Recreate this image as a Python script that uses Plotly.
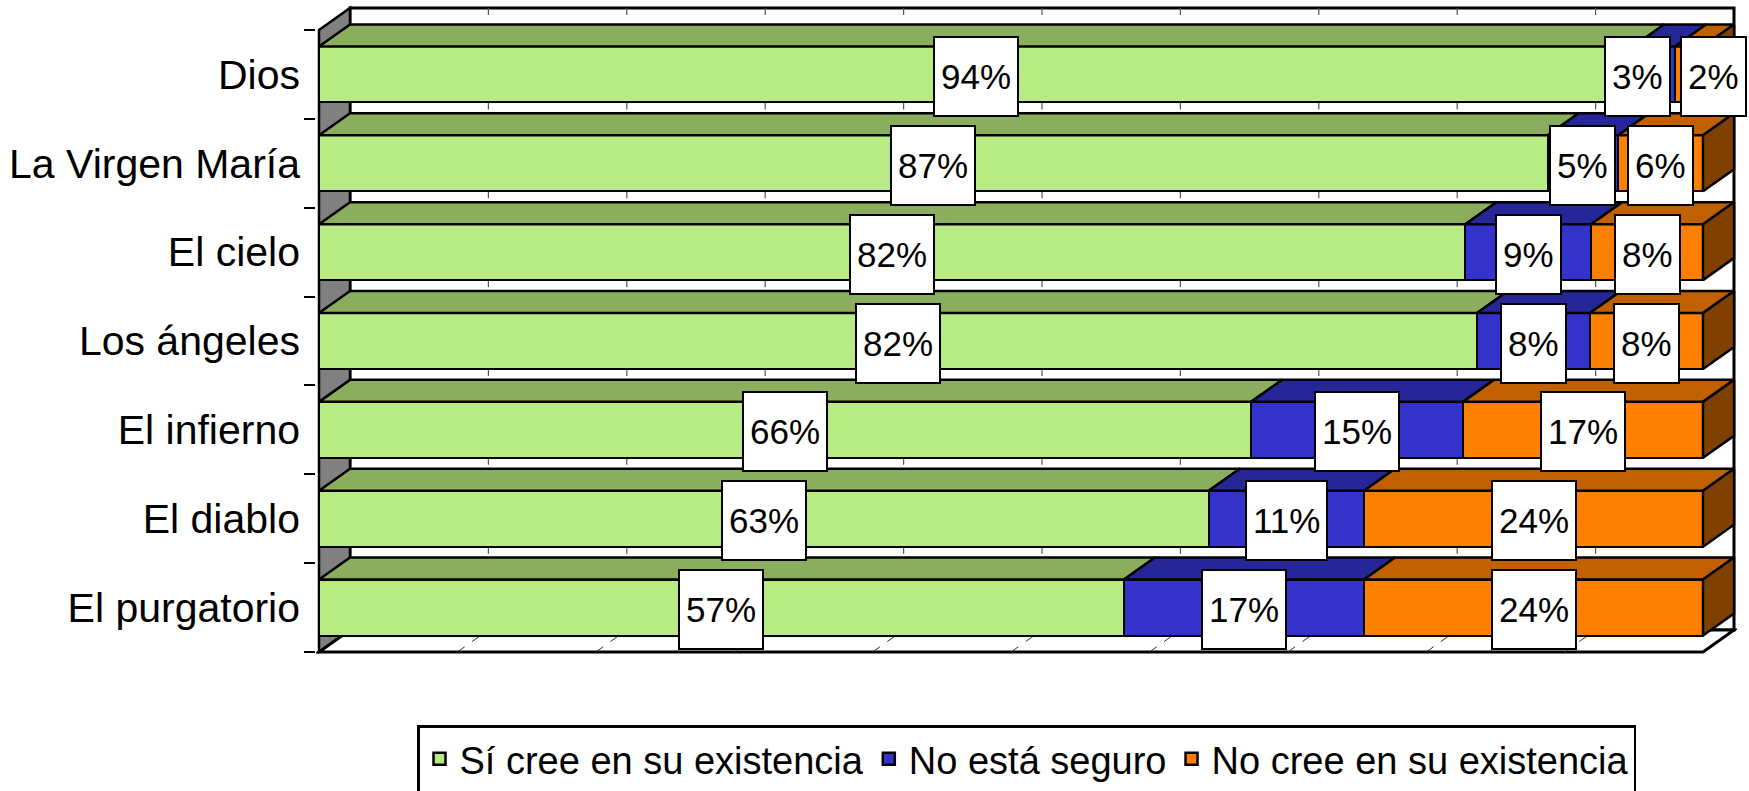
import plotly.graph_objects as go

# ---- data -------------------------------------------------------------
categories = ["Dios", "La Virgen María", "El cielo", "Los ángeles",
              "El infierno", "El diablo", "El purgatorio"]
si_cree = [94, 87, 82, 82, 66, 63, 57]
no_seguro = [3, 5, 9, 8, 15, 11, 17]
no_cree = [2, 6, 8, 8, 17, 24, 24]
series_names = ["Sí cree en su existencia", "No está seguro", "No cree en su existencia"]

# ---- style ------------------------------------------------------------
FRONT = ["#B9EB84", "#3333CC", "#FF8000"]
TOP = ["#8BAE5E", "#262699", "#C06000"]
SIDE = ["#6E8B4A", "#1A1A66", "#804000"]
WALL = "#808080"
FONT = "Arial, Liberation Sans, sans-serif"

W, H = 1749, 791
X0_PX, X100_PX = 319, 1703      # front plane, 0 % and 100 %
Y_TOP_PX, Y_BOT_PX = 30, 652    # front plane, top and bottom
DEPTH_X_PX, DEPTH_Y_PX = 31, 22 # 3-D depth offset
PAD = 3
BAR_W = 0.63
EDGE = 2.5
LABEL_FONT = 35
LABEL_PAD = 6
LABEL_BW = 2
GRID_TICK_PX = 7

n = len(categories)
px_per_pct = (X100_PX - X0_PX) / 100.0
px_per_cat = (Y_BOT_PX - Y_TOP_PX) / n
dx = DEPTH_X_PX / px_per_pct
dy = DEPTH_Y_PX / px_per_cat

x_range = [-PAD / px_per_pct, 100 + dx + PAD / px_per_pct]
y_range = [n - 0.5 + PAD / px_per_cat, -0.5 - dy - PAD / px_per_cat]
m_l = X0_PX - PAD
m_r = W - (X100_PX + DEPTH_X_PX + PAD)
m_t = Y_TOP_PX - DEPTH_Y_PX - PAD
m_b = H - (Y_BOT_PX + PAD)
plot_h = (Y_BOT_PX + PAD) - m_t

series = [si_cree, no_seguro, no_cree]
ypos = list(range(n))

fig = go.Figure()

# front faces: 100 % stacked horizontal bars
for k, name in enumerate(series_names):
    fig.add_trace(go.Bar(
        y=ypos, x=series[k], orientation="h", name=name, width=BAR_W,
        marker=dict(color=FRONT[k], line=dict(color="black", width=EDGE)),
        hoverinfo="skip",
    ))

# normalised segment extents, same as barnorm="percent"
starts = [[0.0] * n for _ in series]
ends = [[0.0] * n for _ in series]
for i in range(n):
    total = sum(s[i] for s in series)
    acc = 0.0
    for k, s in enumerate(series):
        starts[k][i] = acc
        acc += 100.0 * s[i] / total
        ends[k][i] = acc

# top faces of every segment, side face of the last segment in each row
for k in range(len(series)):
    xs, ys = [], []
    for i in range(n):
        s, e = starts[k][i], ends[k][i]
        yt = i - BAR_W / 2
        xs += [s, e, e + dx, s + dx, s, None]
        ys += [yt, yt, yt - dy, yt - dy, yt, None]
    fig.add_trace(go.Scatter(x=xs, y=ys, mode="lines", fill="toself",
                             fillcolor=TOP[k], line=dict(color="black", width=EDGE),
                             hoverinfo="skip", showlegend=False))
    sx, sy = [], []
    for i in range(n):
        last = max(j for j in range(len(series)) if series[j][i] > 0)
        if last != k:
            continue
        e = ends[k][i]
        yt, yb = i - BAR_W / 2, i + BAR_W / 2
        sx += [e, e, e + dx, e + dx, e, None]
        sy += [yt, yb, yb - dy, yt - dy, yt, None]
    if sx:
        fig.add_trace(go.Scatter(x=sx, y=sy, mode="lines", fill="toself",
                                 fillcolor=SIDE[k], line=dict(color="black", width=EDGE),
                                 hoverinfo="skip", showlegend=False))

# walls and floor
def poly(pts):
    return "M " + " L ".join(f"{x},{y}" for x, y in pts) + " Z"

y_front_top, y_front_bot = -0.5, n - 0.5
shapes = []
# back wall
shapes.append(dict(type="path", xref="x", yref="y", layer="below",
                   path=poly([(dx, y_front_top - dy), (100 + dx, y_front_top - dy),
                              (100 + dx, y_front_bot - dy), (dx, y_front_bot - dy)]),
                   fillcolor="white", line=dict(color="black", width=3)))
# gridline stubs visible in the gaps above each row of bars
gap_tops = [y_front_top - dy] + [i + BAR_W / 2 for i in range(n - 1)]
tick_len = GRID_TICK_PX / px_per_cat
for v in range(10, 100, 10):
    for g in gap_tops:
        shapes.append(dict(type="line", xref="x", yref="y", layer="below",
                           x0=v + dx, x1=v + dx, y0=g, y1=g + tick_len,
                           line=dict(color="#555555", width=1.2)))
# left wall
shapes.append(dict(type="path", xref="x", yref="y", layer="below",
                   path=poly([(0, y_front_top), (dx, y_front_top - dy),
                              (dx, y_front_bot - dy), (0, y_front_bot)]),
                   fillcolor=WALL, line=dict(color="black", width=EDGE)))
# floor
shapes.append(dict(type="path", xref="x", yref="y", layer="below",
                   path=poly([(0, y_front_bot), (100, y_front_bot),
                              (100 + dx, y_front_bot - dy), (dx, y_front_bot - dy)]),
                   fillcolor="white", line=dict(color="black", width=3)))
for v in range(10, 100, 10):
    shapes.append(dict(type="line", xref="x", yref="y", layer="below",
                       x0=v, x1=v + dx, y0=y_front_bot, y1=y_front_bot - dy,
                       line=dict(color="#333333", width=1, dash="dash")))

# value labels, pushed apart where boxes would collide
def box_w(text):
    digits = sum(c.isdigit() for c in text)
    return LABEL_FONT * (0.556 * digits + 0.889) + 2 * (LABEL_PAD + LABEL_BW)

annotations = []
GAP = 9
for i in range(n):
    items = []
    for k, s in enumerate(series):
        txt = f"{s[i]}%"
        c = X0_PX + px_per_pct * (starts[k][i] + ends[k][i]) / 2
        items.append([c, box_w(txt), txt])
    for j in range(1, len(items)):
        a, b = items[j - 1], items[j]
        need = (a[1] + b[1]) / 2 + GAP
        if b[0] - a[0] < need:
            over = need - (b[0] - a[0])
            a[0] -= over * 0.4
            b[0] += over * 0.6
    for c, _, txt in items:
        annotations.append(dict(
            x=(c - X0_PX) / px_per_pct, y=i, xref="x", yref="y", text=txt,
            showarrow=False, bgcolor="white", bordercolor="black",
            borderwidth=LABEL_BW, borderpad=LABEL_PAD, height=65, yshift=-2,
            font=dict(family=FONT, size=LABEL_FONT, color="black"),
        ))

fig.update_layout(
    width=W, height=H,
    margin=dict(l=m_l, r=m_r, t=m_t, b=m_b, autoexpand=False),
    paper_bgcolor="white", plot_bgcolor="rgba(0,0,0,0)",
    barmode="stack", barnorm="percent", bargap=0,
    shapes=shapes, annotations=annotations,
    font=dict(family=FONT, color="black"),
    xaxis=dict(range=x_range, showgrid=False, zeroline=False, showticklabels=False,
               showline=False, ticks="", automargin=False, fixedrange=True),
    yaxis=dict(range=y_range, tickmode="array", tickvals=ypos, ticktext=categories,
               showgrid=False, zeroline=False, showline=False, ticks="",
               ticklabelstandoff=15, tickfont=dict(family=FONT, size=41, color="black"),
               minor=dict(tickmode="array",
                          tickvals=[v - 0.5 for v in range(n + 1)],
                          ticks="outside", ticklen=11, tickwidth=2, tickcolor="black"),
               automargin=False, fixedrange=True),
    legend=dict(orientation="h", x=0.5, xanchor="center",
                y=-(725 - (Y_BOT_PX + PAD)) / plot_h, yanchor="top",
                bordercolor="black", borderwidth=2.5, bgcolor="white",
                font=dict(family=FONT, size=38, color="black"),
                traceorder="normal", itemwidth=30),
    showlegend=True,
)

fig.write_html("out.html")
